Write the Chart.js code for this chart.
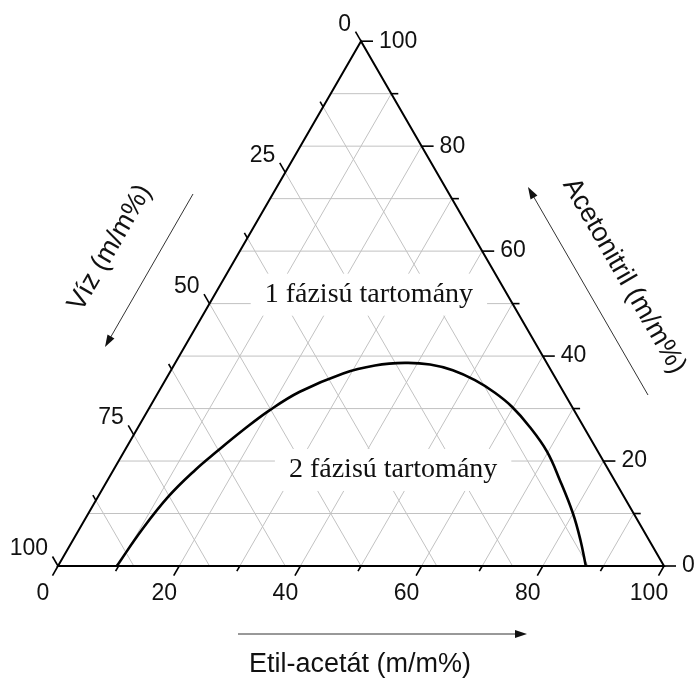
<!DOCTYPE html>
<html>
<head>
<meta charset="utf-8">
<script src="https://cdn.jsdelivr.net/npm/chart.js@4"></script>
<style>
  html, body { margin: 0; padding: 0; background: #fff; }
  #chart { display: block; }
</style>
</head>
<body>
<canvas id="chart" width="695" height="691"></canvas>
<script>
// Binodális görbe (m/m%)
const etilAcetat  = [9.7, 10.4, 11.6, 13.5, 15.3, 17.6, 20.1, 23.3, 28.7, 33.2, 37.9, 42.2, 46.5, 51.1, 55.6, 59.8, 64.6, 69.8, 74.6, 79.9, 83.7, 87.1];
const acetonitril = [0, 6.9, 13.2, 18.3, 21.8, 25.9, 29.7, 33.2, 36.7, 38.2, 38.7, 38.4, 37.3, 35.4, 33.0, 30.3, 26.5, 21.8, 16.4, 10.1, 5.0, 0];

// Tengelyek
const etilTicks = [0, 20, 40, 60, 80, 100];
const etilMinor = [10, 30, 50, 70, 90];
const acetonitrilTicks = [0, 20, 40, 60, 80, 100];
const acetonitrilMinor = [10, 30, 50, 70, 90];
const vizTicks = [0, 25, 50, 75, 100];
const vizMinor = [12.5, 37.5, 62.5, 87.5];

// Rácsvonalak
const etilGrid = [10, 20, 30, 40, 50, 60, 70, 80, 90];
const acetonitrilGrid = [10, 20, 30, 40, 50, 60, 70, 80, 90];
const vizGrid = [12.5, 25, 37.5, 50, 62.5, 75, 87.5];

const label1 = '1 fázisú tartomány';
const label2 = '2 fázisú tartomány';

// ternary -> descartes (x = E + A/2, y = A)
const curvePoints = etilAcetat.map((e, i) => ({ x: e + acetonitril[i] / 2, y: acetonitril[i] }));

const SANS = '"Liberation Sans", Arial, sans-serif';
const SERIF = '"Liberation Serif", "Times New Roman", serif';

function arrow(ctx, x1, y1, x2, y2) {
  const ang = Math.atan2(y2 - y1, x2 - x1);
  const len = 12, w = 4;
  ctx.save();
  ctx.strokeStyle = '#333';
  ctx.fillStyle = '#111';
  ctx.lineWidth = 1;
  ctx.beginPath();
  ctx.moveTo(x1, y1);
  ctx.lineTo(x2 - Math.cos(ang) * len * 0.8, y2 - Math.sin(ang) * len * 0.8);
  ctx.stroke();
  ctx.translate(x2, y2);
  ctx.rotate(ang);
  ctx.beginPath();
  ctx.moveTo(0, 0);
  ctx.lineTo(-len, -w);
  ctx.lineTo(-len, w);
  ctx.closePath();
  ctx.fill();
  ctx.restore();
}

const ternaryPlugin = {
  id: 'ternary',
  beforeDatasetsDraw(chart) {
    const { ctx, scales: { x, y } } = chart;
    const P = (e, a) => [x.getPixelForValue(e + a / 2), y.getPixelForValue(a)];
    const seg = (p, q) => { ctx.beginPath(); ctx.moveTo(p[0], p[1]); ctx.lineTo(q[0], q[1]); ctx.stroke(); };

    ctx.save();
    ctx.strokeStyle = '#c2c2c2';
    ctx.lineWidth = 1;
    etilGrid.forEach(e => seg(P(e, 0), P(e, 100 - e)));
    acetonitrilGrid.forEach(a => seg(P(0, a), P(100 - a, a)));
    vizGrid.forEach(w => seg(P(0, 100 - w), P(100 - w, 0)));
    ctx.restore();

    // feliratok fehér háttérrel
    const boxes = [
      { text: label1, at: [51.3, 51.7] },
      { text: label2, at: [55.3, 18.3] }
    ];
    ctx.save();
    ctx.font = '28px ' + SERIF;
    ctx.textAlign = 'center';
    ctx.textBaseline = 'middle';
    boxes.forEach(b => {
      const cx = x.getPixelForValue(b.at[0]);
      const cy = y.getPixelForValue(b.at[1]);
      const w = ctx.measureText(b.text).width + 28;
      const h = 42;
      ctx.fillStyle = '#fff';
      ctx.fillRect(cx - w / 2, cy - h / 2, w, h);
      ctx.fillStyle = '#111';
      ctx.fillText(b.text, cx, cy);
    });
    ctx.restore();
  },
  afterDatasetsDraw(chart) {
    const { ctx, scales: { x, y } } = chart;
    const P = (e, a) => [x.getPixelForValue(e + a / 2), y.getPixelForValue(a)];

    // háromszög
    ctx.save();
    ctx.strokeStyle = '#000';
    ctx.lineWidth = 2;
    ctx.lineJoin = 'miter';
    ctx.beginPath();
    const c1 = P(0, 0), c2 = P(100, 0), c3 = P(0, 100);
    ctx.moveTo(c1[0], c1[1]);
    ctx.lineTo(c2[0], c2[1]);
    ctx.lineTo(c3[0], c3[1]);
    ctx.closePath();
    ctx.stroke();

    const c60 = Math.cos(Math.PI / 3), s60 = Math.sin(Math.PI / 3);
    const tick = (p, dx, dy, len) => {
      ctx.beginPath();
      ctx.moveTo(p[0], p[1]);
      ctx.lineTo(p[0] + dx * len, p[1] + dy * len);
      ctx.stroke();
    };
    ctx.lineWidth = 1.6;
    // alsó tengely: Etil-acetát
    etilTicks.forEach(e => tick(P(e, 0), -c60, s60, 11));
    etilMinor.forEach(e => tick(P(e, 0), -c60, s60, 6));
    // jobb tengely: Acetonitril
    acetonitrilTicks.forEach(a => tick(P(100 - a, a), 1, 0, 12));
    acetonitrilMinor.forEach(a => tick(P(100 - a, a), 1, 0, 7));
    // bal tengely: Víz
    vizTicks.forEach(w => tick(P(0, 100 - w), -c60, -s60, 11));
    vizMinor.forEach(w => tick(P(0, 100 - w), -c60, -s60, 6));

    ctx.fillStyle = '#111';
    ctx.font = '23px ' + SANS;
    ctx.textBaseline = 'middle';
    ctx.textAlign = 'center';
    etilTicks.forEach(e => { const p = P(e, 0); ctx.fillText(String(e), p[0] - 15, p[1] + 28); });
    ctx.textAlign = 'left';
    acetonitrilTicks.forEach(a => { const p = P(100 - a, a); ctx.fillText(String(a), p[0] + 18, p[1]); });
    ctx.textAlign = 'right';
    vizTicks.forEach(w => { const p = P(0, 100 - w); ctx.fillText(String(w), p[0] - 10, p[1] - 17); });

    // tengelycímek
    ctx.font = '27px ' + SANS;
    ctx.textAlign = 'center';
    ctx.fillText('Etil-acetát (m/m%)', 360, 665);

    ctx.save();
    ctx.translate(110, 248);
    ctx.rotate(-Math.PI / 3);
    ctx.fillText('Víz (m/m%)', 0, 0);
    ctx.restore();

    ctx.save();
    ctx.translate(624, 276);
    ctx.rotate(Math.PI / 3);
    ctx.fillText('Acetonitril (m/m%)', 0, 0);
    ctx.restore();
    ctx.restore();

    arrow(ctx, 238, 634, 527, 634);
    arrow(ctx, 193, 194, 105, 347);
    arrow(ctx, 648, 395, 528, 187);
  }
};

new Chart(document.getElementById('chart'), {
  type: 'scatter',
  data: {
    datasets: [{
      data: curvePoints,
      showLine: true,
      borderColor: '#000',
      borderWidth: 2.6,
      pointRadius: 0,
      tension: 0.4,
      fill: false
    }]
  },
  options: {
    responsive: false,
    animation: false,
    devicePixelRatio: 1,
    layout: { padding: 0 },
    plugins: { legend: { display: false }, tooltip: { enabled: false } },
    scales: {
      x: { type: 'linear', min: -9.571, max: 105.115, display: false },
      y: { type: 'linear', min: -23.818, max: 107.851, display: false }
    }
  },
  plugins: [ternaryPlugin]
});
</script>
</body>
</html>
